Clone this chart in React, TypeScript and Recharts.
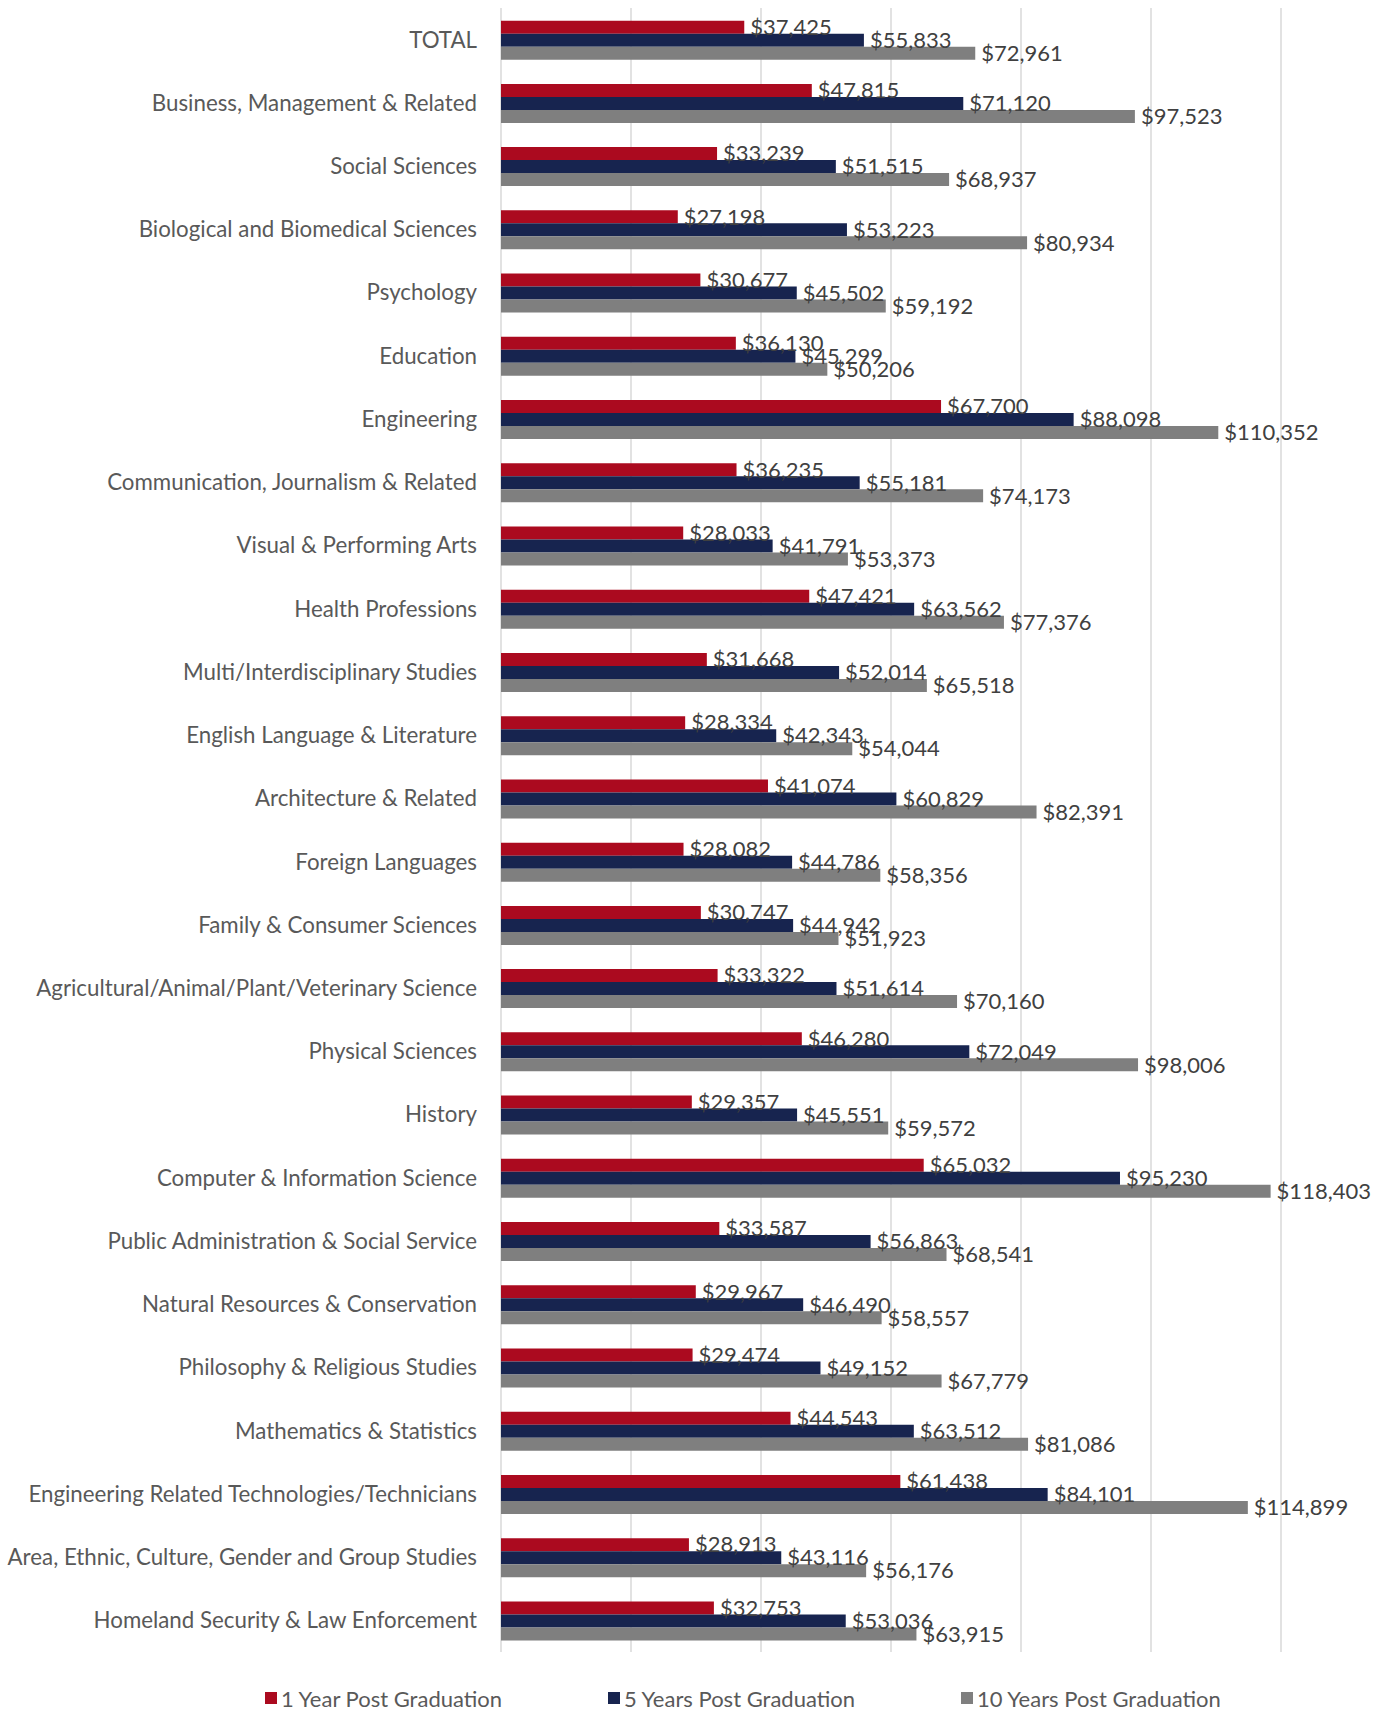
import React from 'react';
import {
  BarChart,
  Bar,
  XAxis,
  YAxis,
  CartesianGrid,
  Legend,
  LabelList
} from 'recharts';

const majors = [
  'TOTAL',
  'Business, Management & Related',
  'Social Sciences',
  'Biological and Biomedical Sciences',
  'Psychology',
  'Education',
  'Engineering',
  'Communication, Journalism & Related',
  'Visual & Performing Arts',
  'Health Professions',
  'Multi/Interdisciplinary Studies',
  'English Language & Literature',
  'Architecture & Related',
  'Foreign Languages',
  'Family & Consumer Sciences',
  'Agricultural/Animal/Plant/Veterinary Science',
  'Physical Sciences',
  'History',
  'Computer & Information Science',
  'Public Administration & Social Service',
  'Natural Resources & Conservation',
  'Philosophy & Religious Studies',
  'Mathematics & Statistics',
  'Engineering Related Technologies/Technicians',
  'Area, Ethnic, Culture, Gender and Group Studies',
  'Homeland Security & Law Enforcement'
];

const oneYear = [
  37425, 47815, 33239, 27198, 30677, 36130, 67700, 36235, 28033, 47421, 31668, 28334, 41074,
  28082, 30747, 33322, 46280, 29357, 65032, 33587, 29967, 29474, 44543, 61438, 28913, 32753
];

const fiveYears = [
  55833, 71120, 51515, 53223, 45502, 45299, 88098, 55181, 41791, 63562, 52014, 42343, 60829,
  44786, 44942, 51614, 72049, 45551, 95230, 56863, 46490, 49152, 63512, 84101, 43116, 53036
];

const tenYears = [
  72961, 97523, 68937, 80934, 59192, 50206, 110352, 74173, 53373, 77376, 65518, 54044, 82391,
  58356, 51923, 70160, 98006, 59572, 118403, 68541, 58557, 67779, 81086, 114899, 56176, 63915
];

const xTicks = [0, 20000, 40000, 60000, 80000, 100000, 120000];

const seriesNames = ['1 Year Post Graduation', '5 Years Post Graduation', '10 Years Post Graduation'];
const seriesColors = ['#AB0A1F', '#17244F', '#7F7F7F'];

const data = majors.map((major, i) => ({
  major,
  y1: oneYear[i],
  y5: fiveYears[i],
  y10: tenYears[i]
}));

const FONT = 'Lato, sans-serif';

const money = (v: any) => '$' + Number(v).toLocaleString('en-US');

const ChartLegend = () => (
  <div style={{ display: 'flex', height: 30, alignItems: 'center', paddingLeft: 265, fontFamily: FONT, fontSize: 22, color: '#595959', position: 'relative', top: 1 }}>
    {seriesNames.map((name, i) => (
      <div key={name} style={{ display: 'flex', alignItems: 'center', width: i === 0 ? 343 : i === 1 ? 353 : 'auto' }}>
        <span style={{ display: 'inline-block', width: 12, height: 12, background: seriesColors[i], marginRight: 4 }} />
        <span>{name}</span>
      </div>
    ))}
  </div>
);

// x axis has no visible labels, only its gridlines
const NoTick = () => <g />;

const App: React.FC = () => {
  const keys = ['y1', 'y5', 'y10'];
  return (
    <div style={{ position: 'absolute', left: 0, top: 0, width: 1390, height: 1712, background: '#fff' }}>
      <BarChart
        width={1390}
        height={1712}
        data={data}
        layout="vertical"
        margin={{ top: 8, right: 109, left: 0, bottom: 30 }}
        barCategoryGap="20%"
        barGap={0}
      >
        <CartesianGrid horizontal={false} stroke="#D9D9D9" strokeWidth={1.5} />
        <XAxis
          type="number"
          domain={[0, 120000]}
          ticks={xTicks}
          interval={0}
          tick={<NoTick />}
          axisLine={false}
          tickLine={false}
          height={0}
        />
        <YAxis
          type="category"
          dataKey="major"
          width={501}
          axisLine={false}
          tickLine={false}
          tickMargin={18}
          interval={0}
          tick={{ fill: '#595959', fontSize: 22.3, fontFamily: FONT }}
        />
        <Legend
          verticalAlign="bottom"
          content={<ChartLegend />}
          wrapperStyle={{ left: 0, bottom: 0, width: 1390 }}
        />
        {keys.map((k, i) => (
          <Bar key={k} dataKey={k} name={seriesNames[i]} fill={seriesColors[i]} isAnimationActive={false}>
            <LabelList
              dataKey={k}
              position="right"
              offset={6}
              formatter={money}
              style={{ fill: '#404040', fontSize: 22, fontFamily: FONT }}
            />
          </Bar>
        ))}
      </BarChart>
    </div>
  );
};

export default App;
